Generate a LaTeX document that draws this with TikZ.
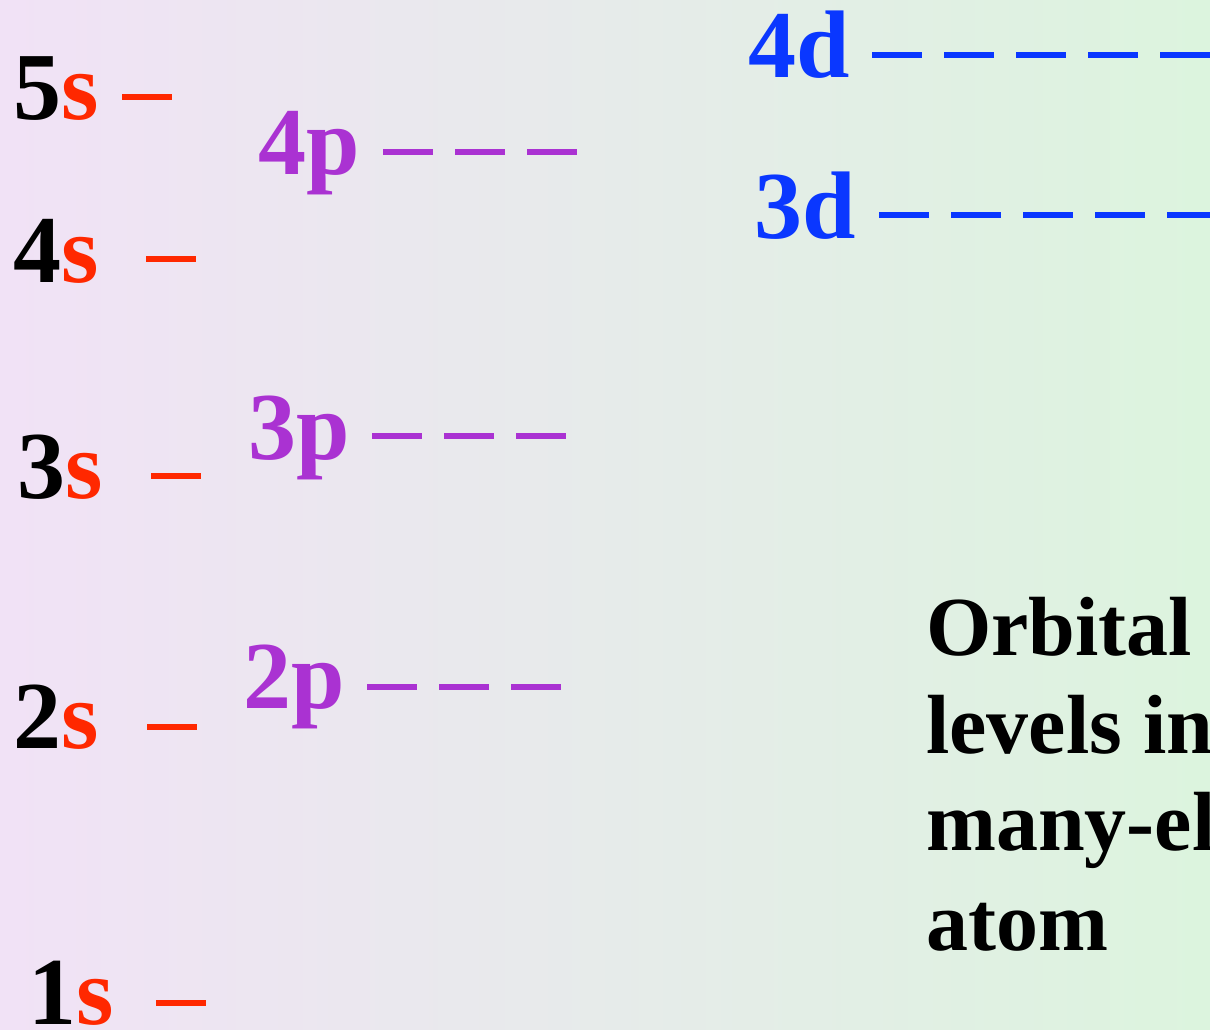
\documentclass[tikz,border=0pt]{standalone}
\usepackage{fontspec}
\setmainfont{Liberation Serif}
\definecolor{sred}{RGB}{255,40,0}
\definecolor{ppur}{RGB}{170,50,210}
\definecolor{dblue}{RGB}{10,55,255}
\definecolor{bgL}{RGB}{241,226,246}
\definecolor{bgR}{RGB}{220,244,222}
\begin{document}
\begin{tikzpicture}[x=1pt,y=-1pt,
  lab/.style={anchor=base west,inner sep=0pt,font=\fontsize{96}{96}\selectfont\bfseries},
  txt/.style={anchor=base west,inner sep=0pt,font=\fontsize{84}{98}\selectfont\bfseries},
  lvl/.style={line width=6pt}]
\useasboundingbox (0,0) rectangle (1210,1030);
\clip (0,0) rectangle (1210,1030);
\shade[left color=bgL,right color=bgR] (0,0) rectangle (1210,1030);
% s levels
\foreach \nm/\n/\lx/\by/\dx/\dy in {s5/5/13/120/122/97, s4/4/13/282/146/259, s3/3/17/498/151/476, s2/2/13/748/147/727, s1/1/28/1024/156/1003}{
  \node[lab] (\nm) at (\lx,\by) {\n\textcolor{sred}{s}};
  \draw[lvl,sred] (\dx,\dy) -- ++(50,0);
}
% p levels
\foreach \nm/\n/\lx/\by/\dx/\dy in {p4/4/258/175/383/152, p3/3/248/459/372/436, p2/2/243/708/367/687}{
  \node[lab,text=ppur] (\nm) at (\lx,\by) {\n p};
  \foreach \i in {0,1,2}
    \draw[lvl,ppur] ({\dx+72*\i},\dy) -- ++(50,0);
}
% d levels
\foreach \nm/\n/\lx/\by/\dx/\dy in {d4/4/748/78/872/55, d3/3/754/238/879/215}{
  \node[lab,text=dblue] (\nm) at (\lx,\by) {\n d};
  \foreach \i in {0,1,2,3,4}
    \draw[lvl,dblue] ({\dx+72*\i},\dy) -- ++(50,0);
}
% caption
\node[txt] (t1) at (926,655) {Orbital};
\node[txt] (t2) at (926,753) {levels in};
\node[txt] (t3) at (926,850) {many-el};
\node[txt] (t4) at (926,950) {atom};
\end{tikzpicture}
\end{document}
